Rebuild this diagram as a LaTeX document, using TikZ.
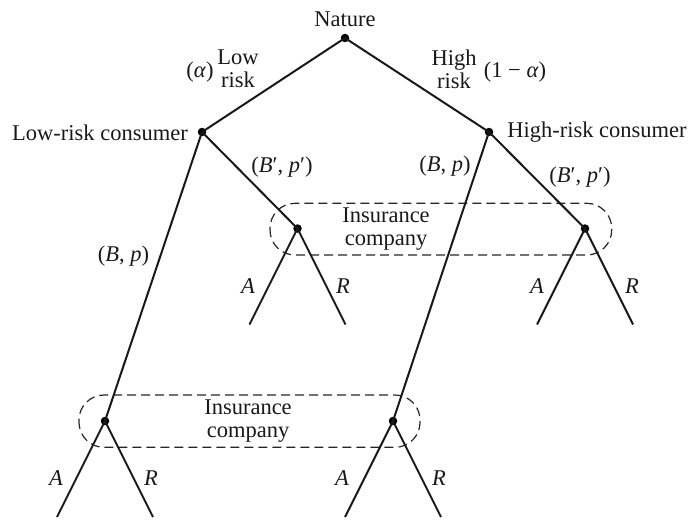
\documentclass[tikz,border=0pt]{standalone}
\usepackage{fontspec}
\setmainfont{Liberation Serif}
\begin{document}
\begin{tikzpicture}[x=1pt,y=-1pt,
  dot/.style={circle,fill=black,inner sep=0pt,minimum size=8.5pt},
  lbl/.style={inner sep=0pt,font=\fontsize{22.5}{23}\selectfont,align=center,text=black!90},
  edge/.style={line width=2pt,draw=black!90},
  infoset/.style={draw=black!85,line width=1.2pt,dash pattern=on 9pt off 5pt,rounded corners=25pt}]
\useasboundingbox (0,0) rectangle (690,519);
% decision nodes
\node[dot] (N)  at (345,38) {};
\node[dot] (L)  at (202,132) {};
\node[dot] (H)  at (489,132) {};
\node[dot] (I1) at (297.5,228.5) {};
\node[dot] (I2) at (585,228.5) {};
\node[dot] (I3) at (105,421) {};
\node[dot] (I4) at (393,421) {};
% leaves
\coordinate (I1a) at (249.5,324.5);
\coordinate (I1r) at (345.5,324.5);
\coordinate (I2a) at (537,324.5);
\coordinate (I2r) at (633,324.5);
\coordinate (I3a) at (57,517);
\coordinate (I3r) at (153,517);
\coordinate (I4a) at (345,517);
\coordinate (I4r) at (441,517);
% information sets
\draw[infoset] (270,203.3) rectangle (611.7,255);
\draw[infoset] (79,395) rectangle (420,447.3);
% edges
\draw[edge] (N.center) -- (L.center);
\draw[edge] (N.center) -- (H.center);
\draw[edge] (L.center) -- (I1.center);
\draw[edge] (L.center) -- (I3.center);
\draw[edge] (H.center) -- (I2.center);
\draw[edge] (H.center) -- (I4.center);
\draw[edge] (I1a) -- (I1.center) -- (I1r);
\draw[edge] (I2a) -- (I2.center) -- (I2r);
\draw[edge] (I3a) -- (I3.center) -- (I3r);
\draw[edge] (I4a) -- (I4.center) -- (I4r);
% labels
\node[lbl] (tN) at (345,19.5) {Nature};
\node[lbl] (tal) at (200,72) {(\textit{α})};
\node[lbl] (tlow) at (238,69) {Low\\risk};
\node[lbl] (thigh) at (454,69) {High\\risk};
\node[lbl] (tone) at (515,72) {(1 − \textit{α})};
\node[lbl] (tL) at (100,132.5) {Low-risk consumer};
\node[lbl] (tH) at (597,132.5) {High-risk consumer};
\node[lbl] (e1) at (282,167) {(\textit{B}′, \textit{p}′)};
\node[lbl] (e2) at (445,166) {(\textit{B}, \textit{p})};
\node[lbl] (e3) at (580,177) {(\textit{B}′, \textit{p}′)};
\node[lbl] (e4) at (123.5,256) {(\textit{B}, \textit{p})};
\node[lbl] (ic1) at (386,229) {Insurance\\company};
\node[lbl] (ic2) at (248,421) {Insurance\\company};
\node[lbl] (a1) at (248,286) {\textit{A}};
\node[lbl] (r1) at (343,286) {\textit{R}};
\node[lbl] (a2) at (537,286) {\textit{A}};
\node[lbl] (r2) at (632,286) {\textit{R}};
\node[lbl] (a3) at (56,478) {\textit{A}};
\node[lbl] (r3) at (151,478) {\textit{R}};
\node[lbl] (a4) at (342,478) {\textit{A}};
\node[lbl] (r4) at (439,478) {\textit{R}};
\end{tikzpicture}
\end{document}
